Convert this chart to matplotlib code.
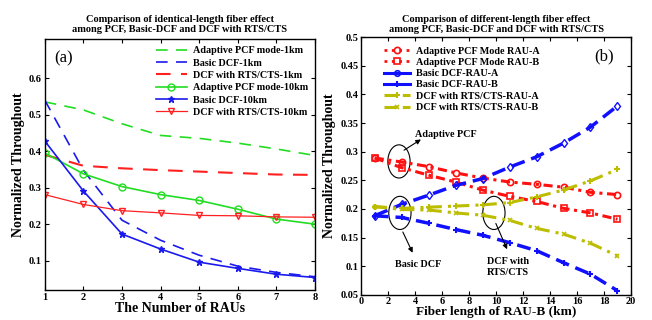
import matplotlib

matplotlib.use('Agg')

import matplotlib.pyplot as plt
from matplotlib.patches import Ellipse
from matplotlib.lines import Line2D

plt.rcParams['font.family'] = ['Liberation Serif', 'DejaVu Serif']
plt.rcParams['font.weight'] = 'bold'
plt.rcParams['axes.labelweight'] = 'bold'
plt.rcParams['axes.titleweight'] = 'bold'

# panel (a): number of RAUs
raus = [1, 2, 3, 4, 5, 6, 7, 8]
pcf_1km = [0.535, 0.513, 0.475, 0.443, 0.435, 0.422, 0.406, 0.388]
basic_1km = [0.540, 0.348, 0.211, 0.156, 0.115, 0.085, 0.068, 0.056]
rts_1km = [0.390, 0.360, 0.353, 0.348, 0.344, 0.340, 0.336, 0.335]
pcf_10km = [0.395, 0.338, 0.303, 0.281, 0.265, 0.241, 0.214, 0.200]
basic_10km = [0.428, 0.291, 0.173, 0.132, 0.096, 0.079, 0.063, 0.054]
rts_10km = [0.281, 0.254, 0.237, 0.231, 0.224, 0.223, 0.220, 0.219]

# panel (b): fiber length of RAU-B
fiber_km = [1, 3, 5, 7, 9, 11, 13, 15, 17, 19]
pcf_a = [0.289, 0.282, 0.274, 0.263, 0.254, 0.247, 0.243, 0.238, 0.229, 0.225]
pcf_b = [0.289, 0.272, 0.259, 0.247, 0.233, 0.222, 0.213, 0.201, 0.193, 0.182]
basic_a = [0.188, 0.208, 0.224, 0.241, 0.253, 0.273, 0.291, 0.315, 0.343, 0.380]
basic_b = [0.188, 0.185, 0.175, 0.164, 0.154, 0.141, 0.127, 0.106, 0.086, 0.057]
rts_a = [0.204, 0.201, 0.203, 0.205, 0.207, 0.211, 0.221, 0.233, 0.249, 0.269]
rts_b = [0.204, 0.199, 0.198, 0.193, 0.189, 0.180, 0.166, 0.156, 0.140, 0.118]

olive = '#bdbd00'
fs_tick = 7.5
fs_leg = 7.3

fig = plt.figure(figsize=(6.52, 3.2), dpi=100)
ax1 = fig.add_axes([0.0686, 0.094, 0.4146, 0.784])
ax2 = fig.add_axes([0.554, 0.079, 0.4137, 0.8045])

# ---- (a)
ax1.plot(raus, pcf_1km, color='#22dd22', ls=(0, (7, 5)), lw=1.2, label='Adaptive PCF mode-1km')
ax1.plot(raus, basic_1km, color='#1a1aee', ls=(0, (7, 5)), lw=1.2, label='Basic DCF-1km')
ax1.plot(raus, rts_1km, color='#ff2020', ls=(0, (7, 5)), lw=1.5, label='DCF with RTS/CTS-1km')
ax1.plot(raus, pcf_10km, color='#22dd22', lw=1.2, marker='o', ms=5, mfc='none', label='Adaptive PCF mode-10km')
ax1.plot(raus, basic_10km, color='#1a1aee', lw=1.2, marker='*', ms=5, label='Basic DCF-10km')
ax1.plot(raus, rts_10km, color='#ff2020', lw=0.9, marker='v', ms=5, mfc='none', label='DCF with RTS/CTS-10km')

ax1.set_xlim(1, 8)
ax1.set_ylim(0.02, 0.707)
ax1.set_xticks(raus)
ax1.set_yticks([0.1, 0.2, 0.3, 0.4, 0.5, 0.6])
ax1.set_xlabel('The Number of RAUs', fontsize=10, labelpad=0)
ax1.set_ylabel('Normalized Throughout', fontsize=10, labelpad=3)
ax1.set_title('Comparison of identical-length fiber effect\namong PCF, Basic-DCF and DCF with RTS/CTS',
              fontsize=7.5, pad=5, linespacing=1.1)
ax1.text(1.25, 0.655, '(a)', fontsize=12, fontweight='normal', va='center')
ax1.legend(loc='upper right', frameon=False, fontsize=fs_leg, handlelength=3.0,
           labelspacing=0.32, borderaxespad=0.3, handletextpad=0.6)

# ---- (b)
ax2.plot(fiber_km, pcf_a, color='#ff1010', ls=(0, (3, 1.5, 1, 1.5)), lw=2.2, marker='o', ms=4.5, mfc='none', mew=1.2)
ax2.plot(fiber_km, pcf_b, color='#ff1010', ls=(0, (3, 1.5, 1, 1.5)), lw=2.2, marker='s', ms=4.5, mfc='none', mew=1.2)
ax2.plot(fiber_km, basic_a, color='#1010ff', ls=(0, (4, 2)), lw=2.5, marker='d', ms=4.5, mfc='none', mew=1.0)
ax2.plot(fiber_km, basic_b, color='#1010ff', ls=(0, (4, 2)), lw=2.5, marker='+', ms=5, mew=1.5)
ax2.plot(fiber_km, rts_a, color=olive, ls=(0, (4, 2, 1, 2)), lw=2.2, marker='+', ms=5, mew=1.5)
ax2.plot(fiber_km, rts_b, color=olive, ls=(0, (4, 2, 1, 2)), lw=2.2, marker='x', ms=3.5, mew=1.2)

handles = [
    Line2D([], [], color='#ff1010', ls=':', lw=2, marker='o', ms=4.5, mfc='none', mew=1.2),
    Line2D([], [], color='#ff1010', ls=':', lw=2, marker='s', ms=4.5, mfc='none', mew=1.2),
    Line2D([], [], color='#1010ff', ls='-', lw=2.2, marker='o', ms=4, mfc='none', mew=1.2),
    Line2D([], [], color='#1010ff', ls='-', lw=2.2, marker='+', ms=5, mew=1.5),
    Line2D([], [], color=olive, ls=(0, (4, 2)), lw=2.2, marker='+', ms=5, mew=1.5),
    Line2D([], [], color=olive, ls=(0, (4, 2)), lw=2.2, marker='x', ms=3.5, mew=1.2),
]
labels = ['Adaptive PCF Mode RAU-A', 'Adaptive PCF Mode RAU-B', 'Basic DCF-RAU-A',
          'Basic DCF-RAU-B', 'DCF with RTS/CTS-RAU-A', 'DCF with RTS/CTS-RAU-B']
ax2.legend(handles, labels, loc='upper left', frameon=False, fontsize=fs_leg, handlelength=2.6,
           labelspacing=0.22, borderaxespad=0.5, handletextpad=0.6, bbox_to_anchor=(0.05, 1.0))

ax2.set_xlim(0, 20)
ax2.set_ylim(0.05, 0.5)
ax2.set_xticks(range(0, 21, 2))
ax2.set_yticks([0.05, 0.1, 0.15, 0.2, 0.25, 0.3, 0.35, 0.4, 0.45, 0.5])
ax2.set_yticklabels(['0.05', '0.1', '0.15', '0.2', '0.25', '0.3', '0.35', '0.4', '0.45', '0.5'])
ax2.set_xlabel('Fiber length of RAU-B (km)', fontsize=9.5, labelpad=0)
ax2.set_ylabel('Normalized Throughout', fontsize=10, labelpad=3)
ax2.set_title('Comparison of different-length fiber effect\namong PCF, Basic-DCF and DCF with RTS/CTS',
              fontsize=7.5, pad=4, linespacing=1.1)
ax2.text(18.0, 0.467, '(b)', fontsize=12, fontweight='normal', ha='center', va='center')

# ellipses and arrows
for cx, cy in [(2.8, 0.283), (2.87, 0.193), (9.84, 0.193)]:
    ax2.add_patch(Ellipse((cx, cy), 1.65, 0.058, fill=False, ec='black', lw=0.8))
arrow = dict(arrowstyle='-|>', color='black', lw=0.8, mutation_scale=7)
ax2.annotate('', xy=(4.6, 0.324), xytext=(3.0, 0.30), arrowprops=arrow)
ax2.annotate('', xy=(3.9, 0.119), xytext=(3.0, 0.164), arrowprops=arrow)
ax2.annotate('', xy=(10.9, 0.125), xytext=(9.9, 0.179), arrowprops=arrow)
ax2.text(4.0, 0.33, 'Adaptive PCF', fontsize=7.3, ha='left', va='center')
ax2.text(4.2, 0.102, 'Basic DCF', fontsize=7.3, ha='center', va='center')
ax2.text(10.9, 0.098, 'DCF with\nRTS/CTS', fontsize=7.3, ha='center', va='center', linespacing=1.3)

for ax in (ax1, ax2):
    ax.tick_params(direction='in', top=True, right=True, labelsize=fs_tick, length=3, width=0.8, pad=2)
    for lab in ax.get_xticklabels() + ax.get_yticklabels():
        lab.set_fontweight('bold')
    for sp in ax.spines.values():
        sp.set_linewidth(1.0)

fig.savefig('out.png', dpi=100)
